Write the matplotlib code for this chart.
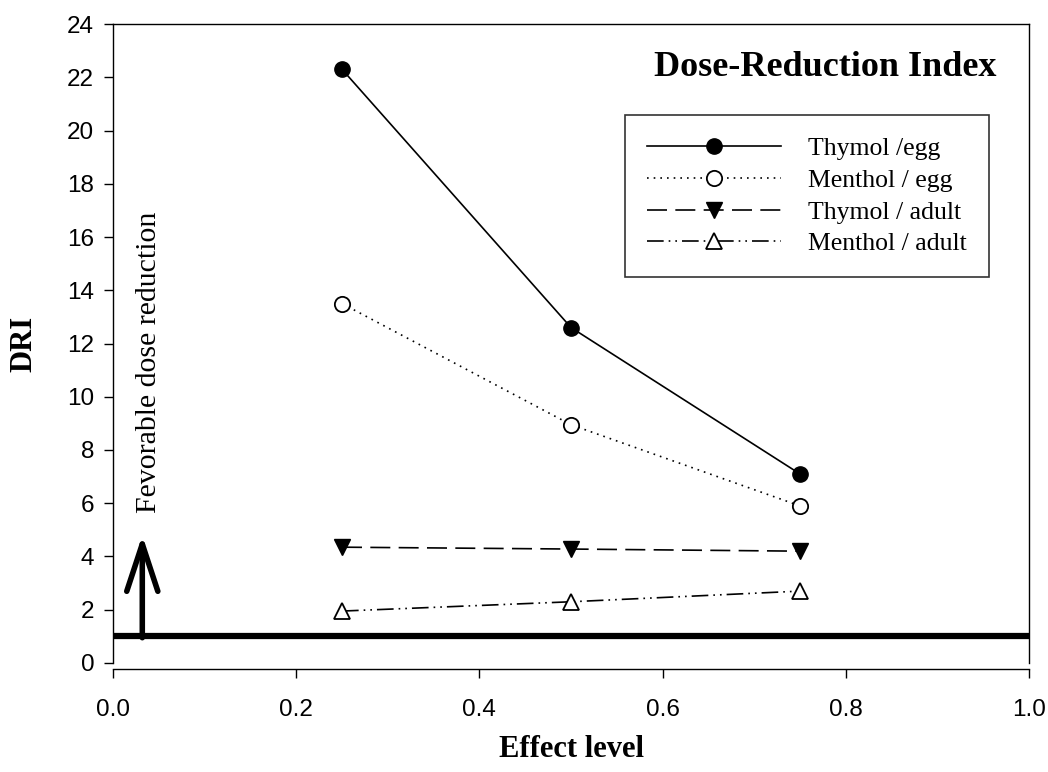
import matplotlib
matplotlib.use("Agg")
import matplotlib.pyplot as plt
from matplotlib.lines import Line2D

# effect levels (fraction affected)
effect = [0.25, 0.5, 0.75]

# dose-reduction index values
thymol_egg = [22.3, 12.6, 7.1]
menthol_egg = [13.5, 8.95, 5.9]
thymol_adult = [4.35, 4.28, 4.2]
menthol_adult = [1.95, 2.3, 2.7]

series_labels = ["Thymol /egg", "Menthol / egg", "Thymol / adult", "Menthol / adult"]

x_ticks = [0.0, 0.2, 0.4, 0.6, 0.8, 1.0]
y_ticks = list(range(0, 25, 2))

serif = "Liberation Serif"
sans = "Liberation Sans"

fig = plt.figure(figsize=(10.48, 7.72), dpi=100)
ax = fig.add_axes([0.1078, 0.1412, 0.8741, 0.8277])

# offset x axis first, it resets the tick setup
for s in ax.spines.values():
    s.set_linewidth(1.0)
ax.spines["bottom"].set_position(("outward", 4.3))

lw = 1.2
styles = [
    dict(ls="-", marker="o", ms=11, mfc="black"),
    dict(ls=(0, (1, 3)), marker="o", ms=11, mfc="white", mew=1.3),
    dict(ls=(0, (12, 5)), marker="v", ms=12, mfc="black"),
    dict(ls=(0, (10, 3, 1, 3, 1, 3)), marker="^", ms=12, mfc="white", mew=1.3),
]
series = [thymol_egg, menthol_egg, thymol_adult, menthol_adult]

handles = []
for vals, st in zip(series, styles):
    ax.plot(effect, vals, color="black", lw=lw, mec="black", **st)
    handles.append(Line2D([], [], color="black", lw=lw, mec="black", **st))

# reference line DRI = 1 and the arrow
ax.axhline(1, color="black", lw=4.5, zorder=3)
ax.annotate("", xy=(0.032, 4.8), xytext=(0.032, 0.95),
            arrowprops=dict(arrowstyle="->,head_length=0.85,head_width=0.28",
                            lw=4.0, color="black", mutation_scale=40,
                            shrinkA=0, shrinkB=0))
ax.text(0.039, 11.3, "Fevorable dose reduction", rotation=90,
        ha="center", va="center", family=serif, fontsize=21.5)

ax.text(0.777, 22.35, "Dose-Reduction Index", ha="center", va="center",
        family=serif, fontsize=26, fontweight="bold")

leg = ax.legend(handles, series_labels, loc="upper left",
                bbox_to_anchor=(0.559, 0.8576), borderaxespad=0,
                prop={"family": serif, "size": 18.5}, handlelength=5.2,
                handletextpad=1.05, labelspacing=0.34, borderpad=0.86,
                fancybox=False, numpoints=1, framealpha=1)
leg.get_frame().set_edgecolor("#333333")
leg.get_frame().set_linewidth(1.2)

ax.set_xlim(0, 1.0)
ax.set_ylim(0, 24)
ax.set_xticks(x_ticks)
ax.set_yticks(y_ticks)
ax.set_xticklabels([f"{t:.1f}" for t in x_ticks], family=sans, fontsize=17.5)
ax.set_yticklabels([str(t) for t in y_ticks], family=sans, fontsize=17.5)
ax.tick_params(axis="both", direction="out", length=6.5, width=1.0)
ax.tick_params(axis="x", pad=15)
ax.tick_params(axis="y", pad=7)

ax.set_xlabel("Effect level", family=serif, fontsize=22, fontweight="bold")
ax.set_ylabel("DRI", family=serif, fontsize=22, fontweight="bold")
ax.xaxis.set_label_coords(0.5, -0.112)
ax.yaxis.set_label_coords(-0.081, 0.5)

fig.savefig("out.png", dpi=100)
